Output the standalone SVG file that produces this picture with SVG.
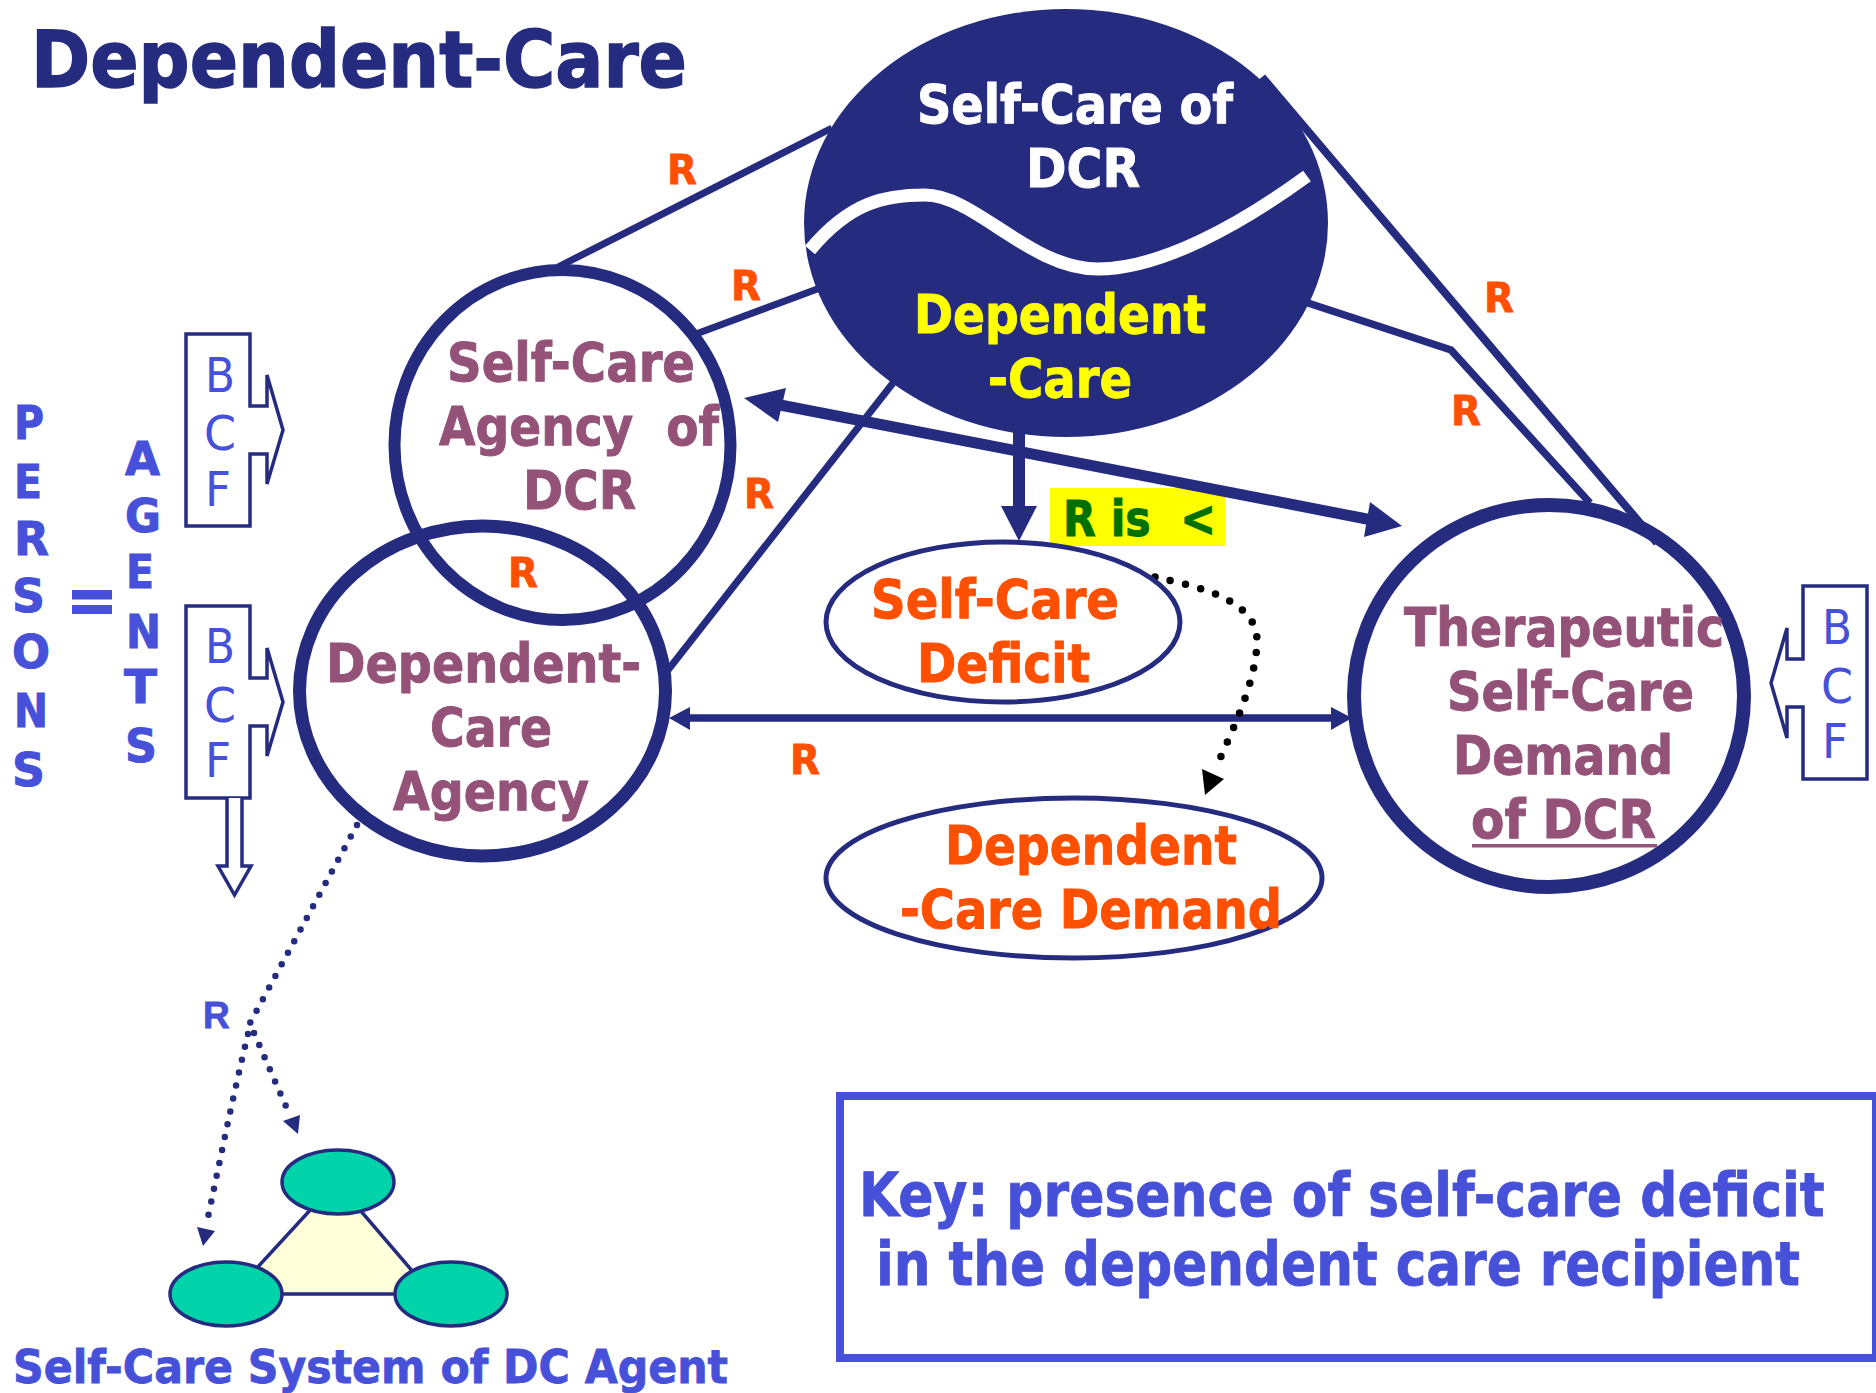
<svg xmlns="http://www.w3.org/2000/svg" width="1876" height="1393" viewBox="0 0 1876 1393">
<style>
text{font-family:"DejaVu Sans",Verdana,sans-serif;font-weight:bold}
.t54{font-size:54px;stroke-width:1}
.pu{fill:#945278;stroke:#945278}.or{fill:#ff4f00;stroke:#ff4f00}.bl{fill:#4650d8;stroke:#4650d8;stroke-width:.8}.na{fill:#252c80;stroke:#252c80;stroke-width:1.5}.wh{fill:#fff;stroke:#fff}.ye{fill:#ffff00;stroke:#ffff00}
.r{font-size:40px;fill:#ff4f00;stroke:#ff4f00;stroke-width:.8}
.v{font-size:47px;fill:#4650d8;stroke:#4650d8;stroke-width:1}
.bcf{font-size:48px;font-weight:normal;fill:#4650d8}
.ln{fill:none;stroke:#252c80;stroke-linejoin:miter}
.ring{fill:none;stroke:#252c80}
.box{fill:#fff;stroke:#252c80;stroke-width:3.5}
.hd{fill:#252c80;stroke:none}
.dot{fill:none;stroke:#252c80;stroke-width:6.500;stroke-linecap:round;stroke-dasharray:0 13.2}
.grn{fill:#00d2aa;stroke:#252c80;stroke-width:3.500}
</style>
<text id="title" x="31" y="87" font-size="78" class="na" textLength="656" lengthAdjust="spacingAndGlyphs">Dependent-Care</text>
<g id="highlight"><rect x="1050" y="488" width="175" height="58" fill="#ffff00"/></g>
<g id="connectors">
<path class="ln" stroke-width="7" d="M558 267L832 128"/>
<path class="ln" stroke-width="7" d="M696 334L820 288"/>
<path class="ln" stroke-width="7" d="M668 670L893 383"/>
<path class="ln" stroke-width="8" d="M1262 77L1657 543"/>
<path class="ln" stroke-width="7.500" d="M1308 303L1451 350L1590 503"/>
<path class="ln" stroke-width="11" d="M775 404L1372 520"/>
<polygon class="hd" points="744,398 786,388 778,422"/>
<polygon class="hd" points="1402,526 1370,502 1364,537"/>
<path class="ln" stroke-width="12" d="M1019 430V510"/>
<polygon class="hd" points="1019,541 1001,506 1037,506"/>
<path class="ln" stroke-width="7.500" d="M685 718H1335"/>
<polygon class="hd" points="669,718 690,707 690,730"/>
<polygon class="hd" points="1352,718 1331,707 1331,730"/>
<path fill="none" stroke="#000" stroke-width="7.500" stroke-linecap="round" stroke-dasharray="0 15.700" d="M1155 577C1200 587 1258 600 1257 642C1256 680 1235 725 1218 763"/>
<polygon points="1205,795 1202,769 1224,779" fill="#000"/>
<path class="dot" d="M357 825L250 1023"/>
<path class="dot" d="M248 1034C232 1100 218 1170 207 1222"/>
<polygon class="hd" points="203,1246 197,1227 215,1231"/>
<path class="dot" d="M254 1033L288 1111"/>
<polygon class="hd" points="298,1134 283,1121 300,1115"/>
</g>
<g id="node-dependent-care-top">
<ellipse cx="1066" cy="223" rx="262" ry="214" fill="#252c80"/>
<path d="M810 250C850 202 885 195 925 195C975 195 1030 269 1098 269C1160 269 1240 225 1307 176" fill="none" stroke="#fff" stroke-width="13"/>
<text x="917" y="123" class="t54 wh" textLength="316" lengthAdjust="spacingAndGlyphs">Self-Care of</text>
<text x="1026" y="187" class="t54 wh" textLength="114" lengthAdjust="spacingAndGlyphs">DCR</text>
<text x="914" y="333" class="t54 ye" textLength="292" lengthAdjust="spacingAndGlyphs">Dependent</text>
<text x="988" y="397" class="t54 ye" textLength="144" lengthAdjust="spacingAndGlyphs">-Care</text>
</g>
<g id="node-self-care-agency">
<ellipse class="ring" stroke-width="12" cx="562.500" cy="445" rx="168" ry="175"/>
<text x="447" y="381" class="t54 pu" textLength="248" lengthAdjust="spacingAndGlyphs">Self-Care</text>
<text x="439" y="445" class="t54 pu" textLength="280" lengthAdjust="spacingAndGlyphs" xml:space="preserve">Agency  of</text>
<text x="523" y="509" class="t54 pu" textLength="113" lengthAdjust="spacingAndGlyphs">DCR</text>
</g>
<g id="node-dependent-care-agency">
<ellipse class="ring" stroke-width="13" cx="482.500" cy="691" rx="183" ry="165"/>
<text x="326" y="682" class="t54 pu" textLength="315" lengthAdjust="spacingAndGlyphs">Dependent-</text>
<text x="430" y="746" class="t54 pu" textLength="122" lengthAdjust="spacingAndGlyphs">Care</text>
<text x="393" y="810" class="t54 pu" textLength="196" lengthAdjust="spacingAndGlyphs">Agency</text>
</g>
<g id="node-therapeutic-demand">
<ellipse class="ring" stroke-width="14" cx="1549" cy="696" rx="195" ry="191"/>
<text x="1404" y="646" class="t54 pu" textLength="320" lengthAdjust="spacingAndGlyphs">Therapeutic</text>
<text x="1447" y="710" class="t54 pu" textLength="247" lengthAdjust="spacingAndGlyphs">Self-Care</text>
<text x="1453" y="774" class="t54 pu" textLength="220" lengthAdjust="spacingAndGlyphs">Demand</text>
<text x="1471" y="838" class="t54 pu" textLength="185" lengthAdjust="spacingAndGlyphs">of DCR</text>
<rect x="1472" y="844" width="185" height="3.500" fill="#945278"/>
</g>
<g id="node-self-care-deficit">
<ellipse class="ring" stroke-width="5" cx="1003" cy="622" rx="177" ry="80"/>
<text x="871" y="618" class="t54 or" textLength="248" lengthAdjust="spacingAndGlyphs">Self-Care</text>
<text x="917" y="682" class="t54 or" textLength="173" lengthAdjust="spacingAndGlyphs">Deficit</text>
</g>
<g id="node-dependent-care-demand">
<ellipse class="ring" stroke-width="5" cx="1074" cy="878" rx="248" ry="80"/>
<text x="945" y="864" class="t54 or" textLength="292" lengthAdjust="spacingAndGlyphs">Dependent</text>
<text x="900" y="928" class="t54 or" textLength="382" lengthAdjust="spacingAndGlyphs">-Care Demand</text>
</g>
<g id="label-r-is-less">
<text x="1063" y="536" font-size="50" fill="#007000" stroke="#007000" textLength="153" lengthAdjust="spacingAndGlyphs" xml:space="preserve">R is  &lt;</text>
</g>
<g id="relation-labels">
<text x="667" y="184" class="r" textLength="30" lengthAdjust="spacingAndGlyphs">R</text>
<text x="731" y="300" class="r" textLength="30" lengthAdjust="spacingAndGlyphs">R</text>
<text x="744" y="508" class="r" textLength="30" lengthAdjust="spacingAndGlyphs">R</text>
<text x="508" y="587" class="r" textLength="30" lengthAdjust="spacingAndGlyphs">R</text>
<text x="1484" y="312" class="r" textLength="30" lengthAdjust="spacingAndGlyphs">R</text>
<text x="1451" y="425" class="r" textLength="30" lengthAdjust="spacingAndGlyphs">R</text>
<text x="790" y="774" class="r" textLength="30" lengthAdjust="spacingAndGlyphs">R</text>
<text x="203" y="1028" font-size="37" style="font-family:'Liberation Sans',sans-serif" class="bl">R</text>
</g>
<g id="label-persons">
<text class="v" x="14" y="439" textLength="30" lengthAdjust="spacingAndGlyphs">P</text>
<text class="v" x="14" y="498" textLength="28" lengthAdjust="spacingAndGlyphs">E</text>
<text class="v" x="14" y="555" textLength="35" lengthAdjust="spacingAndGlyphs">R</text>
<text class="v" x="12" y="612" textLength="33" lengthAdjust="spacingAndGlyphs">S</text>
<text class="v" x="12" y="668" textLength="38" lengthAdjust="spacingAndGlyphs">O</text>
<text class="v" x="14" y="727" textLength="34" lengthAdjust="spacingAndGlyphs">N</text>
<text class="v" x="12" y="786" textLength="33" lengthAdjust="spacingAndGlyphs">S</text>
<rect x="72" y="590" width="40" height="9.500" fill="#4650d8"/>
<rect x="72" y="605" width="40" height="9" fill="#4650d8"/>
</g>
<g id="label-agents">
<text class="v" x="125" y="475" textLength="35" lengthAdjust="spacingAndGlyphs">A</text>
<text class="v" x="125" y="532" textLength="36" lengthAdjust="spacingAndGlyphs">G</text>
<text class="v" x="126" y="588" textLength="28" lengthAdjust="spacingAndGlyphs">E</text>
<text class="v" x="126" y="648" textLength="35" lengthAdjust="spacingAndGlyphs">N</text>
<text class="v" x="124" y="703" textLength="33" lengthAdjust="spacingAndGlyphs">T</text>
<text class="v" x="125" y="762" textLength="32" lengthAdjust="spacingAndGlyphs">S</text>
</g>
<g id="node-bcf-1">
<path class="box" d="M186 334H250V406H267V375L283 430L267 484V454H250V526H186Z"/>
<text class="bcf" x="205" y="392" textLength="30" lengthAdjust="spacingAndGlyphs">B</text>
<text class="bcf" x="204" y="450" textLength="32" lengthAdjust="spacingAndGlyphs">C</text>
<text class="bcf" x="205" y="506" textLength="26" lengthAdjust="spacingAndGlyphs">F</text>
</g>
<g id="node-bcf-2">
<path class="box" d="M186 606H250V678H267V648L283 702L267 756V726H250V798H186Z"/>
<text class="bcf" x="205" y="663" textLength="30" lengthAdjust="spacingAndGlyphs">B</text>
<text class="bcf" x="204" y="722" textLength="32" lengthAdjust="spacingAndGlyphs">C</text>
<text class="bcf" x="205" y="777" textLength="26" lengthAdjust="spacingAndGlyphs">F</text>
<path class="box" d="M227 798V866H218L234.500 895L251 866H242V798" stroke-width="3"/>
</g>
<g id="node-bcf-3">
<path class="box" d="M1867 586H1803V659H1787V628L1771 683L1787 738V707H1803V779H1867Z"/>
<text class="bcf" x="1822" y="644" textLength="30" lengthAdjust="spacingAndGlyphs">B</text>
<text class="bcf" x="1821" y="703" textLength="32" lengthAdjust="spacingAndGlyphs">C</text>
<text class="bcf" x="1822" y="758" textLength="26" lengthAdjust="spacingAndGlyphs">F</text>
</g>
<g id="node-self-care-system">
<polygon points="336,1182 233,1294 432,1294" fill="#ffffd9" stroke="#252c80" stroke-width="3.500"/>
<ellipse class="grn" cx="338" cy="1182" rx="56" ry="32"/>
<ellipse class="grn" cx="226" cy="1294" rx="56" ry="32"/>
<ellipse class="grn" cx="451" cy="1294" rx="56" ry="32"/>
<text x="13" y="1383" font-size="46" class="bl" textLength="715" lengthAdjust="spacingAndGlyphs">Self-Care System of DC Agent</text>
</g>
<g id="node-key">
<rect x="840" y="1096" width="1036" height="262" fill="none" stroke="#4650d8" stroke-width="8"/>
<text transform="translate(859 1216) scale(.8 1)" font-size="60" class="bl" textLength="1207" lengthAdjust="spacingAndGlyphs">Key: presence of self-care deficit</text>
<text transform="translate(876 1285) scale(.8 1)" font-size="60" class="bl" textLength="1155" lengthAdjust="spacingAndGlyphs">in the dependent care recipient</text>
</g>
</svg>
